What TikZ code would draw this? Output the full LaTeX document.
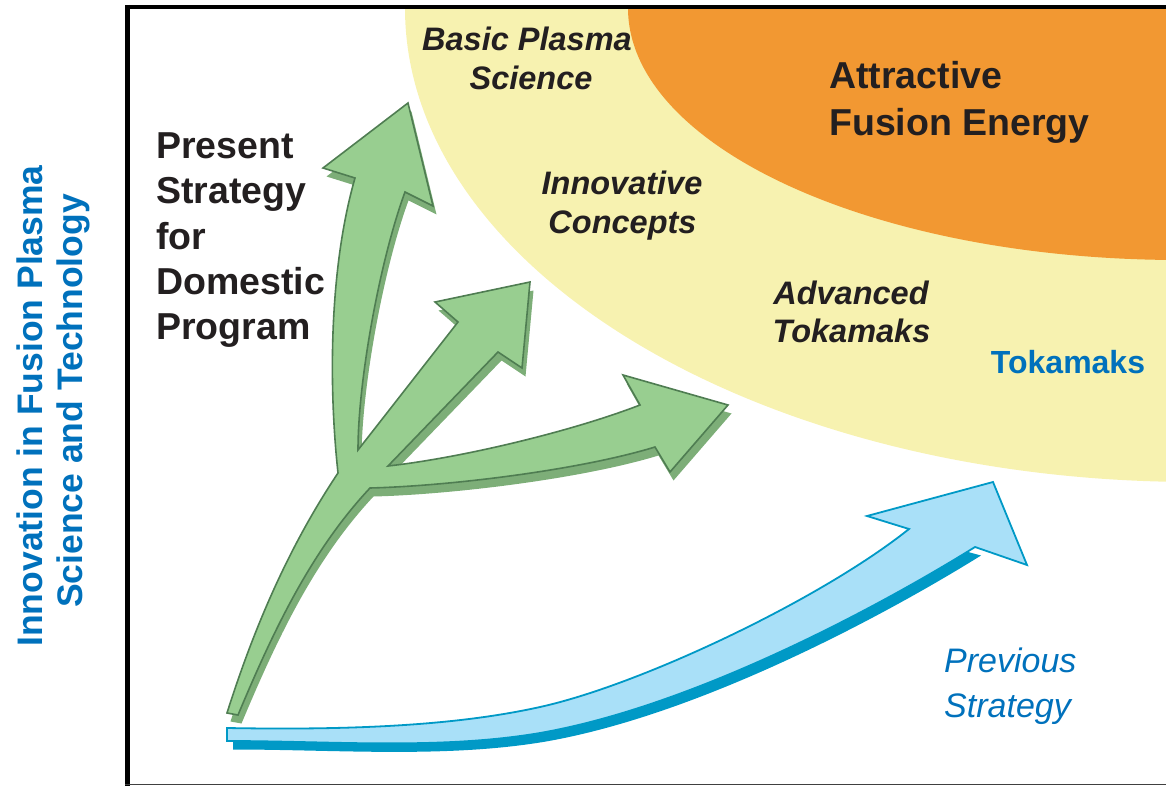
\documentclass[tikz,border=0pt]{standalone}
\usepackage{fontspec}
\setmainfont{Liberation Sans}
\definecolor{inkdark}{HTML}{231F20}
\definecolor{inkblue}{HTML}{0071BC}
\definecolor{zoneyellow}{HTML}{F7F2B0}
\definecolor{zoneorange}{HTML}{F29832}
\definecolor{leaf}{HTML}{98CE90}
\definecolor{leafline}{HTML}{4F7D52}
\definecolor{leafshadow}{HTML}{7DAE78}
\definecolor{sky}{HTML}{A9E0F8}
\definecolor{skyline}{HTML}{0099C6}
\begin{document}
\begin{tikzpicture}[x=1pt,y=-1pt,
  bigbold/.style={font=\fontsize{37.5}{45}\selectfont\bfseries, text=inkdark, inner sep=0pt},
  areaname/.style={font=\fontsize{32.5}{38}\selectfont\bfseries\itshape, text=inkdark, inner sep=0pt},
  bluebold/.style={font=\fontsize{32}{38}\selectfont\bfseries, text=inkblue, inner sep=0pt},
  blueital/.style={font=\fontsize{34}{45}\selectfont\itshape, text=inkblue, inner sep=0pt},
  axislab/.style={font=\fontsize{35.5}{40}\selectfont\bfseries, text=inkblue, inner sep=0pt, rotate=90},
  greenarrow/.style={fill=leaf, draw=leafline, line width=1.6pt, line join=miter},
  bluearrow/.style={fill=sky, draw=skyline, line width=1.8pt, line join=miter}]

\useasboundingbox (0,0) rectangle (1166,786);

% target zones in the upper right corner
\begin{scope}
  \clip (129,9) rectangle (1166,786);
  \fill[zoneyellow] (1195,8) ellipse [x radius=790pt, y radius=474pt];
  \fill[zoneorange] (1180,8) ellipse [x radius=552pt, y radius=252pt];
\end{scope}

% axes frame
\draw[line width=4.5pt, black] (127.5,4.8) -- (127.5,786);
\draw[line width=4.5pt, black] (125,7) -- (1166,7);
\draw[line width=1.5pt, black!75] (125,784.5) -- (1166,784.5);

% vertical axis label
\node[axislab, anchor=base] (axis1) at (42,406) {Innovation in Fusion Plasma};
\node[axislab, anchor=base] (axis2) at (82,401) {Science and Technology};

% zone names
\node[areaname, anchor=base] (basic1) at (527,51) {Basic Plasma};
\node[areaname, anchor=base] (basic2) at (531,90) {Science};
\node[areaname, anchor=base] (innov1) at (622,194.5) {Innovative};
\node[areaname, anchor=base] (innov2) at (622.5,233.5) {Concepts};
\node[areaname, anchor=base] (adv1) at (851,304.5) {Advanced};
\node[areaname, anchor=base] (adv2) at (851.5,342.5) {Tokamaks};
\node[bluebold, anchor=base] (toka) at (1068,373) {Tokamaks};
\node[bigbold, anchor=base west] (goal1) at (829,89) {Attractive};
\node[bigbold, anchor=base west] (goal2) at (829,136) {Fusion Energy};

% strategy captions
\node[bigbold, anchor=base west] (present1) at (156,158.5) {Present};
\node[bigbold, anchor=base west] (present2) at (156,203.8) {Strategy};
\node[bigbold, anchor=base west] (present3) at (156,249) {for};
\node[bigbold, anchor=base west] (present4) at (156,294.3) {Domestic};
\node[bigbold, anchor=base west] (present5) at (156,339.6) {Program};
\node[blueital, anchor=base west] (prev1) at (944,672) {Previous};
\node[blueital, anchor=base west] (prev2) at (944,717) {Strategy};

% three-way branching arrow (present strategy)
\def\branchpath{(227,713) .. controls (254,628) and (288,548) .. (338,473)
  .. controls (328,380) and (330,265) .. (355,178)
  -- (323,168) -- (408,103) -- (433,206) -- (405,192)
  .. controls (380,260) and (358,380) .. (358,450)
  -- (458,322) -- (435,302) -- (530,282) -- (522,368) -- (498,352)
  -- (388,466)
  .. controls (460,458) and (570,432) .. (640,405)
  -- (623,375) -- (728,405) -- (670,472) -- (655,447)
  .. controls (580,470) and (450,486) .. (370,488)
  .. controls (310,552) and (272,634) .. (238,715) -- cycle}
\begin{scope}[shift={(3.5,8.5)}]
  \fill[leafshadow] \branchpath;
\end{scope}
\path[greenarrow] \branchpath;

% single curved arrow (previous strategy)
\begin{scope}[shift={(6,8.5)}]
  \fill[skyline] (227,728) .. controls (340,730) and (450,727) .. (540,707)
    .. controls (640,685) and (820,600) .. (909,529)
    -- (975,547)
    .. controls (890,600) and (700,705) .. (540,733)
    .. controls (440,750) and (330,741) .. (227,741) -- cycle;
\end{scope}
\path[bluearrow] (227,728) .. controls (340,730) and (450,727) .. (540,707)
  .. controls (640,685) and (820,600) .. (909,529)
  -- (867,516) -- (993,482) -- (1027,565) -- (975,547)
  .. controls (890,600) and (700,705) .. (540,733)
  .. controls (440,750) and (330,741) .. (227,741) -- cycle;

\end{tikzpicture}
\end{document}
